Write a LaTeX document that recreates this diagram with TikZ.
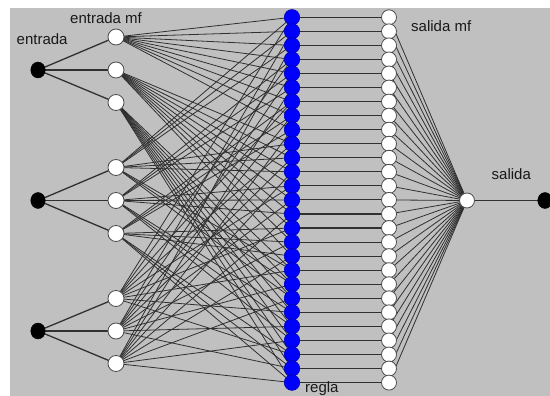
\documentclass[tikz,border=0pt]{standalone}
\usepackage{fontspec}
\setmainfont{Liberation Sans}
\pgfdeclarelayer{bglayer}
\pgfdeclarelayer{edgelayer}
\pgfsetlayers{bglayer,edgelayer,main}
\definecolor{panel}{HTML}{C0C0C0}
\definecolor{wire}{HTML}{303030}
\begin{document}
\begin{tikzpicture}[x=1pt,y=-1pt,
  link/.style={draw=wire, line width=0.8pt},
  thick link/.style={draw=wire, line width=1.3pt},
  inpnode/.style={ellipse, fill=black, draw=black, minimum width=14.5pt, minimum height=16pt, inner sep=0pt},
  mfnode/.style={circle, fill=white, draw=black!70, minimum size=16pt, inner sep=0pt, line width=0.8pt},
  rulenode/.style={circle, fill=blue, draw=blue!70!black, minimum size=15.5pt, inner sep=0pt, line width=0.6pt},
  omfnode/.style={circle, fill=white, draw=black!70, minimum size=15pt, inner sep=0pt, line width=0.8pt},
  lbl/.style={font=\fontsize{15}{15}\selectfont, inner sep=0pt, text=black!90, anchor=base west}]
\usetikzlibrary{shapes.geometric}
\useasboundingbox (0,0) rectangle (550,396);
\begin{pgfonlayer}{bglayer}
  \fill[panel] (10,8) rectangle (551,397);
\end{pgfonlayer}

% inputs
\node[inpnode] (x1) at (38,70) {};
\node[inpnode] (x2) at (38,200.5) {};
\node[inpnode] (x3) at (38,331) {};

% membership functions
\foreach \n/\y in {1/37,2/70,3/102.5}{\node[mfnode] (a\n) at (116,\y) {};}
\foreach \n/\y in {1/167.5,2/200.5,3/233.5}{\node[mfnode] (b\n) at (116,\y) {};}
\foreach \n/\y in {1/298.5,2/331,3/363.5}{\node[mfnode] (c\n) at (116,\y) {};}

% rules and output mfs
\foreach \k in {0,...,26}{
  \pgfmathsetmacro\yy{17.3+14.05*\k}
  \node[rulenode] (r\k) at (292,\yy) {};
  \node[omfnode] (o\k) at (389,\yy) {};
}

% output
\node[omfnode] (out) at (467,200.5) {};
\node[inpnode] (y) at (545,200.5) {};

\begin{pgfonlayer}{edgelayer}
  \foreach \n in {1,2,3}{
    \draw[thick link] (x1.center) -- (a\n.center);
    \draw[thick link] (x2.center) -- (b\n.center);
    \draw[thick link] (x3.center) -- (c\n.center);
  }
  \foreach \k in {0,...,26}{
    \pgfmathtruncatemacro\ia{int(\k/9)+1}
    \pgfmathtruncatemacro\ib{mod(int(\k/3),3)+1}
    \pgfmathtruncatemacro\ic{mod(\k,3)+1}
    \draw[link] (a\ia.center) -- (r\k.center);
    \draw[link] (b\ib.center) -- (r\k.center);
    \draw[link] (c\ic.center) -- (r\k.center);
    \draw[link, line width=1.1pt] (r\k.center) -- (o\k.center);
    \draw[link] (o\k.center) -- (out.center);
  }
  \draw[link, line width=1.1pt] (out.center) -- (y.center);
\end{pgfonlayer}

% labels
\node[lbl] (l1) at (16.5,45) {entrada};
\node[lbl] (l2) at (70,24) {entrada mf};
\node[lbl] (l3) at (411,31.5) {salida mf};
\node[lbl] (l4) at (491.5,179) {salida};
\node[lbl] (l5) at (305,392.5) {regla};
\end{tikzpicture}
\end{document}
